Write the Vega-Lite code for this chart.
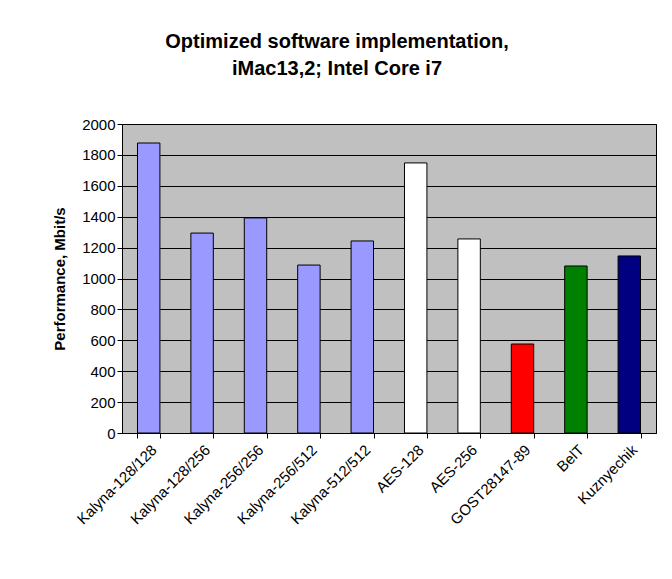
{
  "$schema": "https://vega.github.io/schema/vega-lite/v6.json",
  "width": 534,
  "height": 309,
  "autosize": "none",
  "padding": {"left": 122, "top": 124, "right": 16, "bottom": 146},
  "background": "white",
  "title": {
    "text": ["Optimized software implementation,", "iMac13,2; Intel Core i7"],
    "font": "Liberation Sans",
    "fontSize": 20,
    "fontWeight": "bold",
    "color": "black",
    "offset": 38,
    "lineHeight": 27,
    "dx": -52
  },
  "data": {
    "values": [
      {"cipher": "Kalyna-128/128", "perf": 1877, "group": "k"},
      {"cipher": "Kalyna-128/256", "perf": 1294, "group": "k"},
      {"cipher": "Kalyna-256/256", "perf": 1392, "group": "k"},
      {"cipher": "Kalyna-256/512", "perf": 1087, "group": "k"},
      {"cipher": "Kalyna-512/512", "perf": 1243, "group": "k"},
      {"cipher": "AES-128", "perf": 1748, "group": "a"},
      {"cipher": "AES-256", "perf": 1256, "group": "a"},
      {"cipher": "GOST28147-89", "perf": 576, "group": "g"},
      {"cipher": "BelT", "perf": 1081, "group": "b"},
      {"cipher": "Kuznyechik", "perf": 1146, "group": "z"}
    ]
  },
  "mark": {"type": "bar", "stroke": "black", "strokeWidth": 1},
  "encoding": {
    "x": {
      "field": "cipher",
      "type": "nominal",
      "sort": null,
      "title": null,
      "scale": {"paddingInner": 0.58, "paddingOuter": 0.29},
      "axis": {"labelAngle": -45, "labelFont": "Liberation Sans", "labelFontSize": 15, "labelColor": "black", "domainColor": "black", "tickColor": "black", "ticks": true, "tickBand": "extent", "labelPadding": 4, "labelOverlap": false}
    },
    "y": {
      "field": "perf",
      "type": "quantitative",
      "title": "Performance, Mbit/s",
      "scale": {"domain": [0, 2000]},
      "axis": {"values": [0,200,400,600,800,1000,1200,1400,1600,1800,2000], "format": "d", "labelOverlap": false, "grid": true, "gridColor": "black", "gridOpacity": 1, "labelFont": "Liberation Sans", "labelFontSize": 15, "labelColor": "black", "domainColor": "black", "tickColor": "black", "titleFont": "Liberation Sans", "titleFontSize": 15, "titleFontWeight": "bold", "titleColor": "black", "titlePadding": 14}
    },
    "color": {
      "field": "group",
      "type": "nominal",
      "legend": null,
      "scale": {"domain": ["k", "a", "g", "b", "z"], "range": ["#9999ff", "#ffffff", "#ff0000", "#008000", "#000080"]}
    }
  },
  "config": {"view": {"fill": "#c0c0c0", "stroke": "black"}}
}
